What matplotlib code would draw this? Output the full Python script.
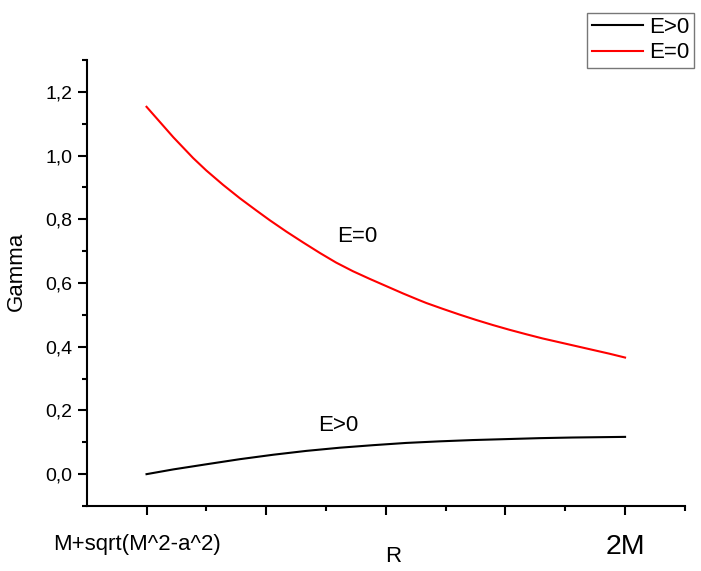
import numpy as np
import matplotlib
matplotlib.use("Agg")
import matplotlib.pyplot as plt
from matplotlib.ticker import MultipleLocator, FixedLocator, FixedFormatter
from matplotlib.transforms import ScaledTranslation

plt.rcParams['font.family'] = ['Liberation Sans', 'DejaVu Sans']

# --- data ---
r_e_zero = [1.00, 1.45, 1.78, 2.00, 2.28, 2.56, 2.84, 3.06, 3.34, 3.62, 3.90, 4.17,
            4.45, 4.73, 5.01, 5.29, 5.56, 5.68, 5.95, 6.23, 6.51, 6.79, 7.07, 7.35,
            7.62, 7.90, 8.18, 8.46, 8.74, 9.00]
gamma_e_zero = [1.153, 1.057, 0.992, 0.953, 0.908, 0.866, 0.827, 0.797, 0.761, 0.727,
                0.694, 0.664, 0.637, 0.613, 0.590, 0.567, 0.546, 0.537, 0.519, 0.501,
                0.484, 0.468, 0.453, 0.439, 0.426, 0.414, 0.402, 0.390, 0.378, 0.366]
r_e_pos = [1.00, 1.45, 2.00, 2.56, 3.12, 3.67, 4.23, 4.79, 5.34, 5.90, 6.45, 7.01,
           7.57, 8.12, 9.00]
gamma_e_pos = [0.000, 0.015, 0.031, 0.047, 0.061, 0.073, 0.083, 0.091, 0.098, 0.103,
               0.107, 0.110, 0.113, 0.115, 0.117]
y_ticks = [0.0, 0.2, 0.4, 0.6, 0.8, 1.0, 1.2]
y_tick_labels = ["0,0", "0,2", "0,4", "0,6", "0,8", "1,0", "1,2"]
x_major = [1, 3, 5, 7, 9]
x_tick_labels = ["M+sqrt(M^2-a^2)", "", "", "", "2M"]

fig = plt.figure(figsize=(7.01, 5.71), dpi=100)
ax = fig.add_axes([0.1237, 0.1138, 0.8533, 0.7812])

ax.plot(r_e_pos, gamma_e_pos, color="black", lw=1.5, label="E>0")
ax.plot(r_e_zero, gamma_e_zero, color="#ff0000", lw=1.5, label="E=0")

ax.text(4.53, 0.745, "E=0", fontsize=16, ha="center", va="center")
ax.text(4.2, 0.152, "E>0", fontsize=16, ha="center", va="center")

ax.set_xlim(0, 10)
ax.set_ylim(-0.1, 1.3)

ax.spines["top"].set_visible(False)
ax.spines["right"].set_visible(False)
for s in ("left", "bottom"):
    ax.spines[s].set_linewidth(1.5)

ax.yaxis.set_major_locator(FixedLocator(y_ticks))
ax.yaxis.set_major_formatter(FixedFormatter(y_tick_labels))
ax.yaxis.set_minor_locator(MultipleLocator(0.1))
ax.xaxis.set_major_locator(FixedLocator(x_major))
ax.xaxis.set_major_formatter(FixedFormatter(x_tick_labels))
ax.xaxis.set_minor_locator(FixedLocator([2, 4, 6, 8, 10]))

ax.tick_params(which="major", direction="out", length=6.5, width=1.5, labelsize=14, pad=4)
ax.tick_params(which="minor", direction="out", length=3.5, width=1.5)
ax.tick_params(axis="x", which="major", pad=14)

xl = ax.get_xticklabels()
xl[0].set_fontsize(16)
xl[0].set_transform(xl[0].get_transform() + ScaledTranslation(-0.1, 0, fig.dpi_scale_trans))
xl[-1].set_fontsize(20.5)

ax.set_ylabel("Gamma", fontsize=16)
ax.yaxis.set_label_coords(-0.0998, 0.525)
ax.set_xlabel("R", fontsize=16)
ax.xaxis.set_label_coords(0.513, -0.09)

leg = fig.legend(loc="upper right", bbox_to_anchor=(694 / 701, 1 - 12.5 / 571),
                 fontsize=16, frameon=True, fancybox=False, handlelength=2.3,
                 handletextpad=0.3, borderaxespad=0, borderpad=0.2, labelspacing=0.2)
leg.get_frame().set_edgecolor("#555555")
leg.get_frame().set_linewidth(1.0)

fig.savefig("out.png", dpi=100)
